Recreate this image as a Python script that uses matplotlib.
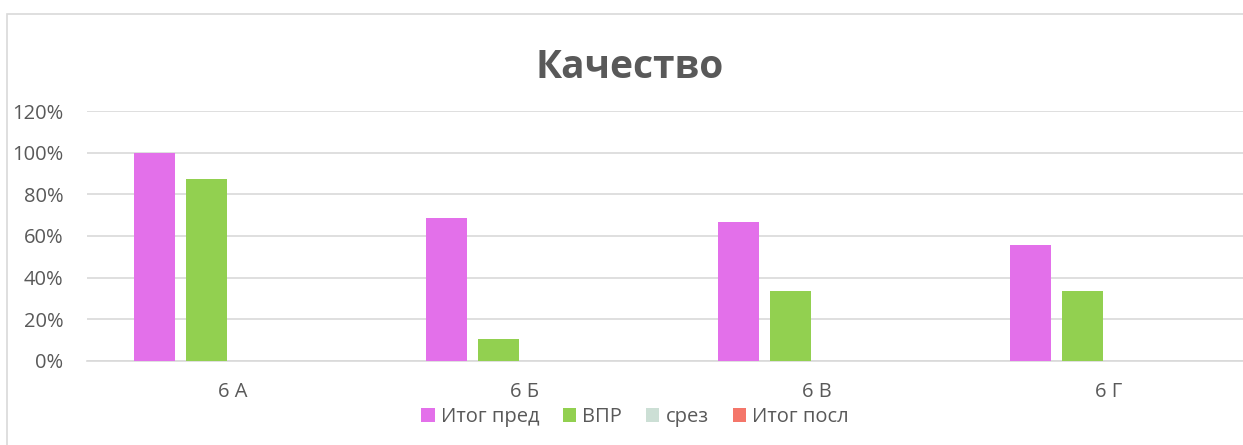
import matplotlib
matplotlib.use("Agg")
import matplotlib.pyplot as plt
from matplotlib.ticker import PercentFormatter
from matplotlib.patches import Rectangle
import numpy as np

plt.rcParams['font.family'] = ['Open Sans', 'DejaVu Sans']

title = "Качество"
categories = ["6 А", "6 Б", "6 В", "6 Г"]
series_names = ["Итог пред", "ВПР", "срез", "Итог посл"]
itog_pred = [1.0, 0.684, 0.667, 0.556]
vpr = [0.875, 0.105, 0.333, 0.333]
srez = [0, 0, 0, 0]
itog_posl = [0, 0, 0, 0]
series_values = [itog_pred, vpr, srez, itog_posl]
colors = ["#E370EA", "#92D050", "#CCDFD5", "#F4766A"]
yticks = [0, 0.2, 0.4, 0.6, 0.8, 1.0, 1.2]

W, H = 1243, 445
fig = plt.figure(figsize=(W / 100, H / 100), dpi=100)
fig.patch.set_facecolor("white")

# chart border (extends past the right/bottom edge like the reference crop)
fig.patches.append(Rectangle((7 / W, -0.1), 1.2, 1 - 14 / H + 0.1, transform=fig.transFigure,
                             fill=False, edgecolor="#D9D9D9", linewidth=1.2))

left = 87 / W
right = 1255 / W
bottom = (H - 360.7) / H
height = 249.6 / H
ax = fig.add_axes([left, bottom, right - left, height])

x = np.arange(len(categories))
step = 0.18
bw = 0.1404
for i, (name, vals, c) in enumerate(zip(series_names, series_values, colors)):
    ax.bar(x + (i - 1.5) * step, vals, width=bw, color=c, label=name, zorder=3)

ax.set_xlim(-0.5, len(categories) - 0.5)
ax.set_ylim(0, 1.2)
ax.set_yticks(yticks)
ax.yaxis.set_major_formatter(PercentFormatter(1.0, decimals=0))
ax.set_xticks(x)
ax.set_xticklabels(categories)
ax.grid(axis="y", color="#D9D9D9", linewidth=1.2, zorder=0)
for s in ["left", "right", "top"]:
    ax.spines[s].set_visible(False)
ax.spines["bottom"].set_color("#D9D9D9")
ax.spines["bottom"].set_linewidth(1.2)
ax.tick_params(axis="both", length=0, labelsize=14.5, colors="#595959")
ax.tick_params(axis="y", pad=17)
ax.tick_params(axis="x", pad=15)

fig.text(630 / W, 1 - 67 / H, title, ha="center", va="center", fontsize=28,
         fontweight="bold", color="#595959")

fig.legend(loc="center", bbox_to_anchor=(635 / W, 1 - 417 / H), ncol=4, frameon=False,
           fontsize=14.5, labelcolor="#595959", handlelength=0.65, handleheight=0.65,
           handletextpad=0.3, columnspacing=1.2)

fig.savefig("out.png", dpi=100, facecolor="white")
